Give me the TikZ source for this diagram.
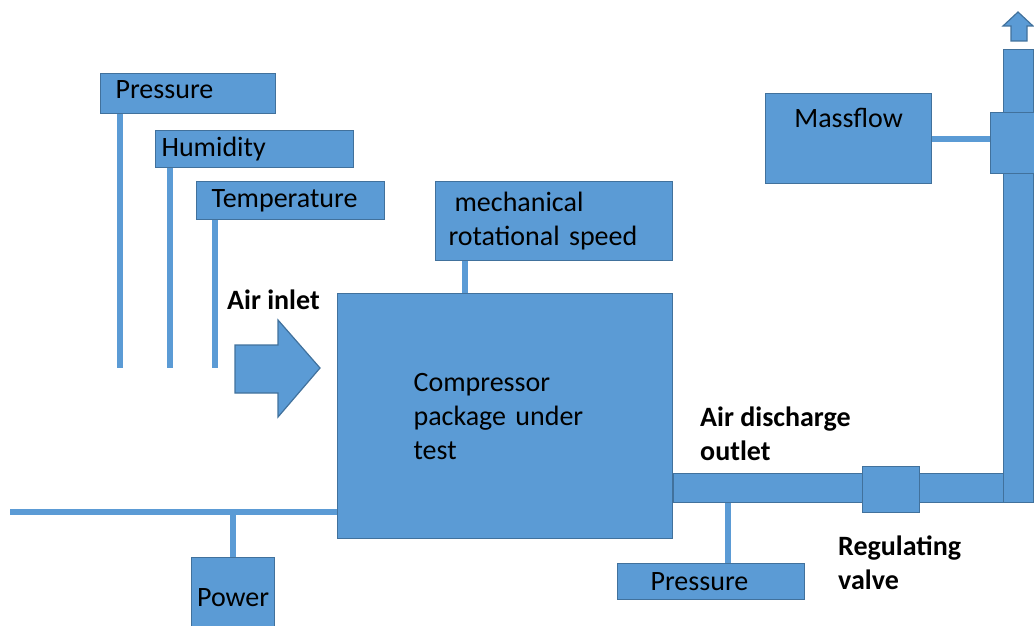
\documentclass[tikz,border=0pt]{standalone}
\usepackage{fontspec}
\setmainfont{Carlito}
\usetikzlibrary{positioning}
\definecolor{boxblue}{HTML}{5B9BD5}
\definecolor{edgeblue}{HTML}{41719C}
\tikzset{
    unitbox/.style={rectangle, fill=boxblue, draw=edgeblue, line width=1.2pt, anchor=north west, inner ysep=0pt, align=left, font=\fontsize{28}{34}\selectfont},
    pipepart/.style={rectangle, fill=boxblue, draw=edgeblue, line width=1.2pt, anchor=north west, inner sep=0pt},
    sensorline/.style={draw=boxblue, line width=6pt},
    flowarrow/.style={fill=boxblue, draw=edgeblue, line width=1.2pt, line join=miter},
    flowtext/.style={font=\fontsize{28}{34}\selectfont\bfseries, align=left, anchor=west, inner sep=0pt}
}

\begin{document}
\begin{tikzpicture}[x=1pt, y=-1pt]
    \useasboundingbox (0,0) rectangle (1034,626);

    % Inlet sensors
    \node[unitbox, minimum height=40pt, inner xsep=15pt, text width=145pt, text depth=9pt] (ptop) at (100,73) {Pressure};
    \node[unitbox, minimum height=37pt, inner xsep=6pt, text width=186pt] (hum) at (155,130) {Humidity};
    \node[unitbox, minimum height=38pt, inner xsep=15pt, text width=158pt] (temp) at (196,181) {Temperature};
    \coordinate (pend) at (120,368);
    \coordinate (hend) at (170,368);
    \coordinate (tend) at (215,368);
    \draw[sensorline] (ptop.south -| pend) -- (pend);
    \draw[sensorline] (hum.south -| hend) -- (hend);
    \draw[sensorline] (temp.south -| tend) -- (tend);

    % Compressor
    \node[unitbox, minimum height=245pt, inner xsep=76pt, text width=183pt] (comp) at (337,293) {Compressor\\package under\\test};
    \node[unitbox, minimum height=79pt, inner xsep=13pt, text width=211pt] (mech) at (435,181) {\hspace{6pt}mechanical\\rotational speed};
    \draw[sensorline] ([xshift=30pt]mech.south west) -- ([xshift=30pt]mech.south west |- comp.north);

    % Air inlet
    \node[flowtext] (inlettxt) at (227,300) {Air inlet};
    \draw[flowarrow] (235,345) -- (278,345) -- (278,320) -- (320,368) -- (278,417) -- (278,393) -- (235,393) -- cycle;

    % Power supply
    \coordinate (mains) at (10,512);
    \node[unitbox, minimum width=83pt, minimum height=80pt, inner xsep=0pt, align=center, text depth=-2pt] (power) at (191,557) {Power};
    \draw[sensorline] (mains) -- (mains -| comp.west);
    \draw[sensorline] (power.north) -- (power.north |- mains);

    % Discharge line
    \node[pipepart, minimum width=332pt, minimum height=29pt] (pipeH) at (673,473) {};
    \node[pipepart, minimum width=30pt, minimum height=453pt] (pipeV) at (1003,49) {};
    \node[pipepart, minimum width=57pt, minimum height=46pt] (valve) at (862,466) {};
    \node[pipepart, minimum width=60pt, minimum height=61pt] (meter) at (990,112) {};
    \draw[flowarrow] (1011,41) -- (1011,26) -- (1003,26) -- (1018,12) -- (1033,26) -- (1027,26) -- (1027,41) -- cycle;
    \node[flowtext] (outlettxt) at (700,434) {Air discharge\\outlet};
    \node[flowtext] (valvetxt) at (838,563) {Regulating\\valve};

    % Outlet sensors
    \node[unitbox, minimum height=36pt, inner xsep=33pt, text width=121pt] (pout) at (617,563) {Pressure};
    \draw[sensorline] ([xshift=17pt]pout.north) -- ([xshift=17pt]pout.north |- pipeH.south);
    \node[unitbox, minimum height=90pt, inner xsep=0pt, text width=166pt, align=center, text depth=42pt] (mass) at (765,93) {Massflow};
    \draw[sensorline] (mass.east) -- (mass.east -| meter.west);
\end{tikzpicture}
\end{document}
